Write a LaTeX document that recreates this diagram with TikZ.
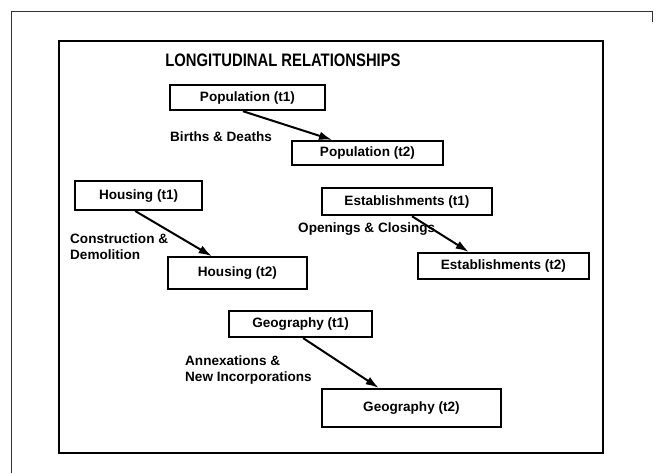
\documentclass[tikz,border=0pt]{standalone}
\usepackage{fontspec}
\setmainfont{Liberation Sans}
\newfontfamily\titlefont[FakeStretch=0.82]{Liberation Sans}
\usetikzlibrary{arrows.meta}

\begin{document}
\begin{tikzpicture}[
        box/.style={draw, line width=2.2pt, inner sep=0pt, font=\bfseries\fontsize{13.5}{15}\selectfont},
        lbl/.style={anchor=west, align=left, inner sep=0pt, font=\bfseries\fontsize{13.5}{16}\selectfont},
        link/.style={line width=2pt, -{Latex[length=4.6mm,width=3mm]}}
    ]
            \useasboundingbox (0,0) rectangle (23.065,16.555);
            % scanned page edge
            \draw[line width=0.5pt, black!80] (0.385,0) -- (0.385,16.17) -- (22.82,16.17) -- (22.82,15.785);
            % slide frame
            \draw[line width=2.6pt] (2.065,0.70) rectangle (21.105,15.12);
            \node[font=\titlefont\bfseries\fontsize{18}{20}\selectfont] (title) at (9.905,14.455) {LONGITUDINAL RELATIONSHIPS};

            % population
            \node[box, minimum width=5.43cm, minimum height=0.875cm] (pop1) at (8.66,13.14) {Population (t1)};
            \node[box, minimum width=5.29cm, minimum height=0.84cm] (pop2) at (12.86,11.2) {Population (t2)};
            \node[lbl] (births) at (5.95,11.76) {Births \& Deaths};
            \draw[link] ([xshift=-0.16cm]pop1.south) -- ([xshift=1.45cm]pop2.north west);

            % housing
            \node[box, minimum width=4.45cm, minimum height=1.0cm] (hou1) at (4.85,9.71) {Housing (t1)};
            \node[box, minimum width=4.87cm, minimum height=1.1cm] (hou2) at (8.31,7.0) {Housing (t2)};
            \node[lbl] (constr) at (2.45,7.93) {Construction \&\\Demolition};
            \draw[link] ([xshift=-0.12cm]hou1.south) -- ([xshift=1.575cm]hou2.north west);

            % establishments
            \node[box, minimum width=5.95cm, minimum height=0.95cm] (est1) at (14.245,9.50) {Establishments (t1)};
            \node[box, minimum width=5.99cm, minimum height=0.91cm] (est2) at (17.62,7.245) {Establishments (t2)};
            \node[lbl] (open) at (10.43,8.54) {Openings \& Closings};
            \draw[link] ([xshift=0.175cm]est1.south) -- ([xshift=1.82cm]est2.north west);

            % geography
            \node[box, minimum width=5.0cm, minimum height=0.91cm] (geo1) at (10.52,5.215) {Geography (t1)};
            \node[box, minimum width=6.27cm, minimum height=1.33cm] (geo2) at (14.40,2.275) {Geography (t2)};
            \node[lbl] (annex) at (6.475,3.59) {Annexations \&\\New Incorporations};
            \draw[link] ([xshift=0.09cm]geo1.south) -- ([xshift=2.03cm]geo2.north west);
\end{tikzpicture}
\end{document}
